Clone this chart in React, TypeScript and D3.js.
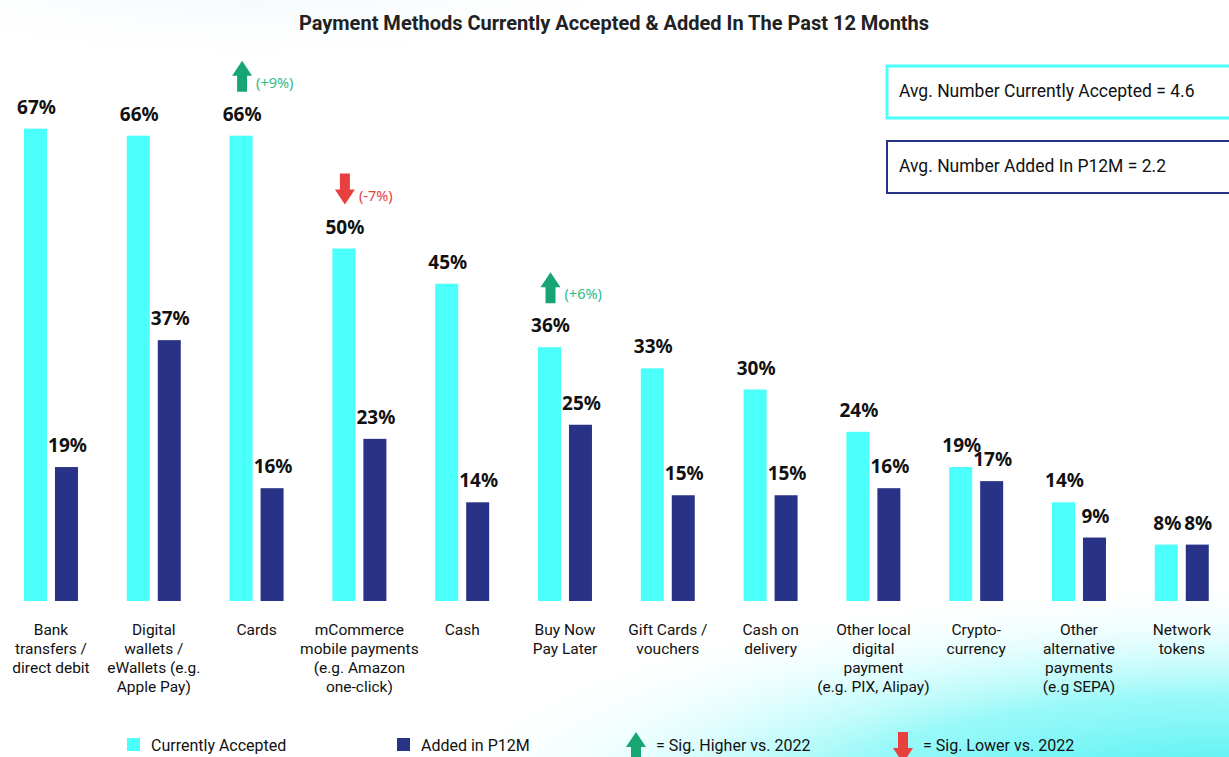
import React, { useRef, useEffect } from "react";
import * as d3 from "d3";

const categories = [
  "Bank transfers / direct debit",
  "Digital wallets / eWallets (e.g. Apple Pay)",
  "Cards",
  "mCommerce mobile payments (e.g. Amazon one-click)",
  "Cash",
  "Buy Now Pay Later",
  "Gift Cards / vouchers",
  "Cash on delivery",
  "Other local digital payment (e.g. PIX, Alipay)",
  "Crypto-currency",
  "Other alternative payments (e.g SEPA)",
  "Network tokens",
];

const categoryLines = [
  ["Bank", "transfers /", "direct debit"],
  ["Digital", "wallets /", "eWallets (e.g.", "Apple Pay)"],
  ["Cards"],
  ["mCommerce", "mobile payments", "(e.g. Amazon", "one-click)"],
  ["Cash"],
  ["Buy Now", "Pay Later"],
  ["Gift Cards /", "vouchers"],
  ["Cash on", "delivery"],
  ["Other local", "digital", "payment", "(e.g. PIX, Alipay)"],
  ["Crypto-", "currency"],
  ["Other", "alternative", "payments", "(e.g SEPA)"],
  ["Network", "tokens"],
];

const currentlyAccepted = [67, 66, 66, 50, 45, 36, 33, 30, 24, 19, 14, 8];
const addedP12M = [19, 37, 16, 23, 14, 25, 15, 15, 16, 17, 9, 8];

// significance vs 2022 (on the "currently accepted" bar)
const sigChanges = [
  { category: "Cards", dir: "up", label: "(+9%)" },
  { category: "mCommerce mobile payments (e.g. Amazon one-click)", dir: "down", label: "(-7%)" },
  { category: "Buy Now Pay Later", dir: "up", label: "(+6%)" },
];

const seriesKeys = ["Currently Accepted", "Added in P12M"];
const avgBoxes = [
  { text: "Avg. Number Currently Accepted = 4.6", key: "Currently Accepted" },
  { text: "Avg. Number Added In P12M = 2.2", key: "Added in P12M" },
];

const colorMap: Record<string, string> = {
  "Currently Accepted": "#4bfffa",
  "Added in P12M": "#283287",
};
const GREEN = "#17a673";
const GREEN_TEXT = "#2dbb8b";
const RED = "#e8403f";

const W = 1229;
const H = 757;

const arrowPath = (cx: number, top: number, dir: string) => {
  // arrow 20 wide, 31 tall
  const hw = 10, sw = 5, head = 15, len = 31;
  if (dir === "up") {
    return `M${cx},${top} L${cx + hw},${top + head} L${cx + sw},${top + head} L${cx + sw},${top + len} L${cx - sw},${top + len} L${cx - sw},${top + head} L${cx - hw},${top + head} Z`;
  }
  const b = top + len;
  return `M${cx},${b} L${cx + hw},${b - head} L${cx + sw},${b - head} L${cx + sw},${top} L${cx - sw},${top} L${cx - sw},${b - head} L${cx - hw},${b - head} Z`;
};

const PaymentChart = () => {
  const svgRef = useRef<SVGSVGElement>(null);

  useEffect(() => {
    const svg = d3.select(svgRef.current);
    svg.selectAll("*").remove();
    svg.attr("width", W).attr("height", H);

    const baseY = 601;

    // background washes
    const defs = svg.append("defs");
    const g1 = defs.append("radialGradient").attr("id", "bgBottom");
    g1.append("stop").attr("offset", "0%").attr("stop-color", "#33eeee").attr("stop-opacity", 1);
    g1.append("stop").attr("offset", "50%").attr("stop-color", "#6ff6f6").attr("stop-opacity", 0.7);
    g1.append("stop").attr("offset", "100%").attr("stop-color", "#ffffff").attr("stop-opacity", 0);
    const g2 = defs.append("radialGradient").attr("id", "bgTop");
    g2.append("stop").attr("offset", "0%").attr("stop-color", "#e6f1f8").attr("stop-opacity", 0.9);
    g2.append("stop").attr("offset", "100%").attr("stop-color", "#ffffff").attr("stop-opacity", 0);

    svg.append("rect").attr("width", W).attr("height", H).attr("fill", "#ffffff");
    svg.append("ellipse").attr("cx", 250).attr("cy", -40).attr("rx", 450).attr("ry", 110).attr("fill", "url(#bgTop)");
    svg.append("ellipse").attr("cx", 1229).attr("cy", 810).attr("rx", 820).attr("ry", 230).attr("fill", "url(#bgBottom)");

    // title
    svg.append("text")
      .attr("x", 614)
      .attr("y", 30)
      .attr("text-anchor", "middle")
      .style("font-family", "Roboto, sans-serif")
      .style("font-size", "20px")
      .style("font-weight", "bold")
      .style("fill", "#222")
      .text("Payment Methods Currently Accepted & Added In The Past 12 Months");

    const x0 = d3.scaleBand<string>()
      .domain(categories)
      .range([24, 24 + 102.8 * 12 - 102.8 * 0.475])
      .paddingInner(0.475)
      .paddingOuter(0);

    const x1 = d3.scaleBand<string>()
      .domain(seriesKeys)
      .range([0, x0.bandwidth()])
      .paddingInner(0.258);

    const y = d3.scaleLinear().domain([0, 67]).range([baseY, baseY - 67 * 7.05]);

    const rows = categories.map((c, i) => ({
      category: c,
      values: [
        { key: seriesKeys[0], value: currentlyAccepted[i] },
        { key: seriesKeys[1], value: addedP12M[i] },
      ],
    }));

    const groups = svg.selectAll("g.cat")
      .data(rows)
      .enter()
      .append("g")
      .attr("class", "cat")
      .attr("transform", d => `translate(${x0(d.category)},0)`);

    groups.selectAll("rect")
      .data(d => d.values)
      .enter()
      .append("rect")
      .attr("x", d => x1(d.key)!)
      .attr("y", d => y(d.value))
      .attr("width", x1.bandwidth())
      .attr("height", d => baseY - y(d.value))
      .attr("fill", d => colorMap[d.key]);

    groups.selectAll("text.val")
      .data(d => d.values)
      .enter()
      .append("text")
      .attr("class", "val")
      .attr("x", d => x1(d.key)! + x1.bandwidth() / 2 + 1)
      .attr("y", d => y(d.value) - 15)
      .attr("text-anchor", "middle")
      .style("font-family", "'Noto Sans', 'Open Sans', sans-serif")
      .style("font-size", "19px")
      .style("font-weight", "bold")
      .style("fill", "#111")
      .text(d => `${d.value}%`);

    // category labels
    groups.each(function (d, i) {
      const t = d3.select(this).append("text")
        .attr("text-anchor", "middle")
        .style("font-family", "Roboto, sans-serif")
        .style("font-size", "15.5px")
        .style("fill", "#111");
      categoryLines[i].forEach((line, j) => {
        t.append("tspan")
          .attr("x", x0.bandwidth() / 2)
          .attr("y", 635 + j * 19)
          .text(line);
      });
    });

    // significance arrows
    sigChanges.forEach(s => {
      const i = categories.indexOf(s.category);
      const cx = x0(s.category)! + x1(seriesKeys[0])! + x1.bandwidth() / 2 + 1;
      const bottom = y(currentlyAccepted[i]) - 44;
      svg.append("path")
        .attr("d", arrowPath(cx, bottom - 31, s.dir))
        .attr("fill", s.dir === "up" ? GREEN : RED);
      svg.append("text")
        .attr("x", cx + 14)
        .attr("y", bottom - 4)
        .style("font-family", "'Noto Sans', 'Open Sans', sans-serif")
        .style("font-size", "14.5px")
        .style("fill", s.dir === "up" ? GREEN_TEXT : RED)
        .text(s.label);
    });

    // average boxes
    avgBoxes.forEach((b, i) => {
      const top = 66 + i * 75;
      svg.append("rect")
        .attr("x", 887)
        .attr("y", top)
        .attr("width", 360)
        .attr("height", 52)
        .attr("fill", "#ffffff")
        .attr("stroke", colorMap[b.key])
        .attr("stroke-width", i === 0 ? 3 : 2);
      svg.append("text")
        .attr("x", 899)
        .attr("y", top + 31)
        .style("font-family", "Roboto, sans-serif")
        .style("font-size", "17.5px")
        .style("fill", "#111")
        .text(b.text);
    });

    // legend
    const legendY = 751;
    const legendItems = [
      { x: 127, kind: "rect", key: seriesKeys[0], text: "Currently Accepted" },
      { x: 397, kind: "rect", key: seriesKeys[1], text: "Added in P12M" },
      { x: 626, kind: "up", key: "", text: "= Sig. Higher vs. 2022" },
      { x: 893, kind: "down", key: "", text: "= Sig. Lower vs. 2022" },
    ];
    legendItems.forEach(it => {
      if (it.kind === "rect") {
        svg.append("rect")
          .attr("x", it.x)
          .attr("y", legendY - 13)
          .attr("width", 13)
          .attr("height", 13)
          .attr("fill", colorMap[it.key]);
      } else {
        svg.append("path")
          .attr("d", arrowPath(it.x + 10, 732, it.kind))
          .attr("fill", it.kind === "up" ? GREEN : RED);
      }
      svg.append("text")
        .attr("x", it.kind === "rect" ? it.x + 24 : it.x + 30)
        .attr("y", legendY)
        .style("font-family", "Roboto, sans-serif")
        .style("font-size", "16px")
        .style("fill", "#111")
        .text(it.text);
    });
  }, []);

  return <svg ref={svgRef} style={{ position: "absolute", left: 0, top: 0, display: "block" }}></svg>;
};

export default function App() {
  return <PaymentChart />;
}
